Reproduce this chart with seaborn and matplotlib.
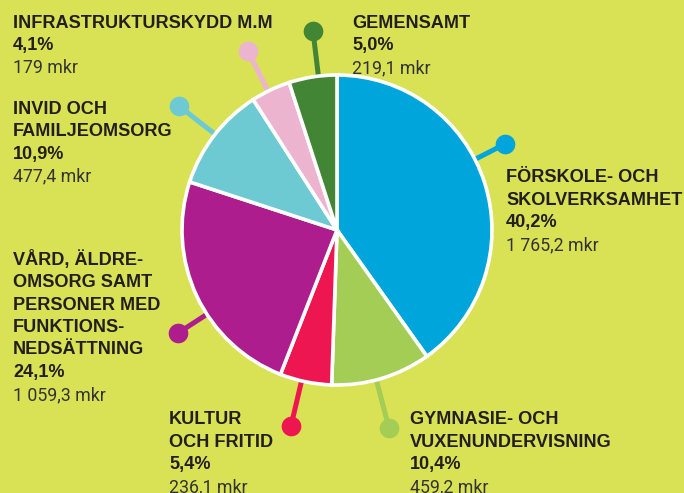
import seaborn as sns
from matplotlib import pyplot as plt

# Budget shares per area (reading clockwise from the top)
areas = ["FÖRSKOLE- OCH\nSKOLVERKSAMHET", "GYMNASIE- OCH\nVUXENUNDERVISNING",
         "KULTUR\nOCH FRITID", "VÅRD, ÄLDRE-\nOMSORG SAMT\nPERSONER MED\nFUNKTIONS-\nNEDSÄTTNING",
         "INVID OCH\nFAMILJEOMSORG", "INFRASTRUKTURSKYDD M.M", "GEMENSAMT"]
shares = [40.2, 10.4, 5.4, 24.1, 10.9, 4.1, 5.0]
amounts = ["1 765,2", "459,2", "236,1", "1 059,3", "477,4", "179", "219,1"]
colors = ["#00a5db", "#a3cd55", "#ee1650", "#ad1d8d", "#6dcad3", "#edb4cf", "#428534"]

bg = "#d9e155"

sns.set_theme(style="white")
plt.rcParams['font.family'] = ['Liberation Sans', 'DejaVu Sans']

fig = plt.figure(figsize=(6.84, 4.93), dpi=100, facecolor=bg)
ax = fig.add_axes([0, 0, 1, 1])
ax.set_facecolor(bg)

# dot positions (in pie radii) and label anchors (pixels: left x, first line y)
dots = [(1.084, 0.555), (0.335, -1.277), (-0.297, -1.265), (-1.026, -0.665),
        (-1.019, 0.80), (-0.574, 1.155), (-0.155, 1.284)]
anchors = [(506, 178), (410, 420), (169, 420), (13, 260), (13, 109), (13, 23), (352, 23)]

for (dx, dy), c in zip(dots, colors):
    ax.plot([0, dx], [0, dy], color=c, lw=3.6, zorder=1, solid_capstyle="butt")
    ax.scatter([dx], [dy], s=200, color=c, zorder=2, linewidths=0)

ax.pie(shares, colors=colors, startangle=90, counterclock=False, radius=1,
       wedgeprops=dict(edgecolor="white", linewidth=2.6))
for p in ax.patches:
    p.set_zorder(3)

# pie centre sits at pixel (337, 230), radius 155 px
R = 155
cx, cy = 337, 230
ax.set_aspect("auto")
ax.set_xlim(-cx / R, (684 - cx) / R)
ax.set_ylim(-(493 - cy) / R, cy / R)
ax.axis("off")

step = 22.5
fs = 13.1
for name, pct, amt, (px, py) in zip(areas, shares, amounts, anchors):
    y = py
    for ln in name.split("\n"):
        fig.text(px / 684, 1 - y / 493, ln, fontsize=fs, fontweight="bold",
                 color="#231f20", va="center", ha="left")
        y += step
    fig.text(px / 684, 1 - y / 493, f"{pct:.1f}%".replace(".", ","), fontsize=fs,
             fontweight="bold", color="#231f20", va="center", ha="left")
    y += step
    fig.text(px / 684, 1 - y / 493, f"{amt} mkr", fontsize=12.8, color="#333333",
             va="center", ha="left", family=["Roboto", "DejaVu Sans"])

fig.savefig("out.png", dpi=100, facecolor=bg)
